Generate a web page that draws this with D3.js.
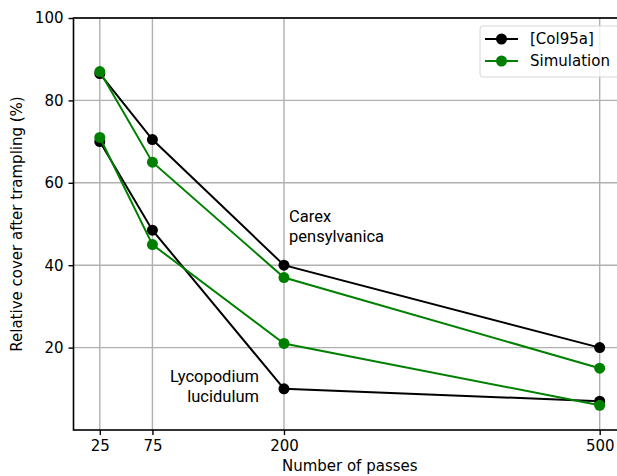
<!DOCTYPE html>
<html>
<head>
<meta charset="utf-8">
<script src="https://cdn.jsdelivr.net/npm/d3@7"></script>
<style>
  body { margin: 0; background: #fff; overflow: hidden; }
  svg { display: block; }
</style>
</head>
<body>
<svg width="617" height="476"></svg>
<script>
// passes (x values) and cover values
const passes = [25, 75, 200, 500];
const carexObserved = [86.5, 70.5, 40, 20];
const carexSimulated = [87, 65, 37, 15];
const lycopodiumObserved = [70, 48.5, 10, 7];
const lycopodiumSimulated = [71, 45, 21, 6];
const yTicks = [20, 40, 60, 80, 100];
const seriesNames = ['[Col95a]', 'Simulation'];
const seriesColors = ['#000000', '#008000'];

const FONT = '"DejaVu Sans", sans-serif';
const svg = d3.select('svg');
const x = d3.scaleLinear([0, 525], [73.5, 626]);
const y = d3.scaleLinear([0, 100], [430, 18]);

// grid
const grid = svg.append('g').attr('stroke', '#b0b0b0').attr('stroke-width', 1.4);
grid.selectAll('.gx').data(passes).join('line')
  .attr('x1', (d) => x(d)).attr('x2', (d) => x(d))
  .attr('y1', y(0)).attr('y2', y(100));
grid.selectAll('.gy').data(yTicks).join('line')
  .attr('x1', x(0)).attr('x2', x(525))
  .attr('y1', (d) => y(d)).attr('y2', (d) => y(d));

// axes
const xAxis = svg.append('g')
  .attr('transform', `translate(0,${y(0)})`)
  .call(d3.axisBottom(x).tickValues(passes).tickSize(5).tickPadding(5));
const yAxis = svg.append('g')
  .attr('transform', `translate(${x(0)},0)`)
  .call(d3.axisLeft(y).tickValues(yTicks).tickSize(5).tickPadding(5));
[xAxis, yAxis].forEach((g) => {
  g.select('.domain').remove();
  g.selectAll('line').attr('stroke', '#000').attr('stroke-width', 1.4);
  g.selectAll('text')
    .attr('fill', '#000')
    .style('font-family', FONT)
    .style('font-size', '15px');
});

// spines
svg.append('rect')
  .attr('x', x(0)).attr('y', y(100))
  .attr('width', x(525) - x(0)).attr('height', y(0) - y(100))
  .attr('fill', 'none').attr('stroke', '#000').attr('stroke-width', 1.6);

// series
const line = d3.line().x((d) => x(d[0])).y((d) => y(d[1]));
const series = [
  { values: carexObserved, color: seriesColors[0] },
  { values: carexSimulated, color: seriesColors[1] },
  { values: lycopodiumObserved, color: seriesColors[0] },
  { values: lycopodiumSimulated, color: seriesColors[1] },
];
series.forEach((s) => {
  const pts = passes.map((p, i) => [p, s.values[i]]);
  const g = svg.append('g');
  g.append('path')
    .attr('d', line(pts))
    .attr('fill', 'none')
    .attr('stroke', s.color)
    .attr('stroke-width', 2);
  g.selectAll('circle').data(pts).join('circle')
    .attr('cx', (d) => x(d[0]))
    .attr('cy', (d) => y(d[1]))
    .attr('r', 5.5)
    .attr('fill', s.color);
});

// annotations
const ann = svg.append('g')
  .style('font-family', 'Roboto, sans-serif')
  .style('font-size', '16.5px')
  .attr('fill', '#000');
ann.append('text').attr('x', 289).attr('y', 222).text('Carex');
ann.append('text').attr('x', 289).attr('y', 242).text('pensylvanica');
ann.append('text').attr('x', 259).attr('y', 382).attr('text-anchor', 'end').text('Lycopodium');
ann.append('text').attr('x', 259).attr('y', 402).attr('text-anchor', 'end').text('lucidulum');

// axis labels
svg.append('text')
  .attr('x', x(262.5)).attr('y', 471)
  .attr('text-anchor', 'middle')
  .style('font-family', FONT)
  .style('font-size', '15px')
  .text('Number of passes');
svg.append('text')
  .attr('transform', `translate(22,${y(50)}) rotate(-90)`)
  .attr('text-anchor', 'middle')
  .style('font-family', FONT)
  .style('font-size', '15px')
  .text('Relative cover after trampling (%)');

// legend
const legend = svg.append('g').attr('transform', 'translate(480,26)');
legend.append('rect')
  .attr('width', 145).attr('height', 51).attr('rx', 3)
  .attr('fill', 'rgba(255,255,255,0.8)')
  .attr('stroke', '#d6d6d6').attr('stroke-width', 1);
seriesNames.forEach((name, i) => {
  const row = legend.append('g').attr('transform', `translate(0,${13 + i * 22})`);
  row.append('line').attr('x1', 5).attr('x2', 38)
    .attr('stroke', seriesColors[i]).attr('stroke-width', 2);
  row.append('circle').attr('cx', 21.5).attr('r', 5.5).attr('fill', seriesColors[i]);
  row.append('text').attr('x', 50).attr('dy', '0.35em')
    .style('font-family', FONT)
    .style('font-size', '15px')
    .text(name);
});
</script>
</body>
</html>
